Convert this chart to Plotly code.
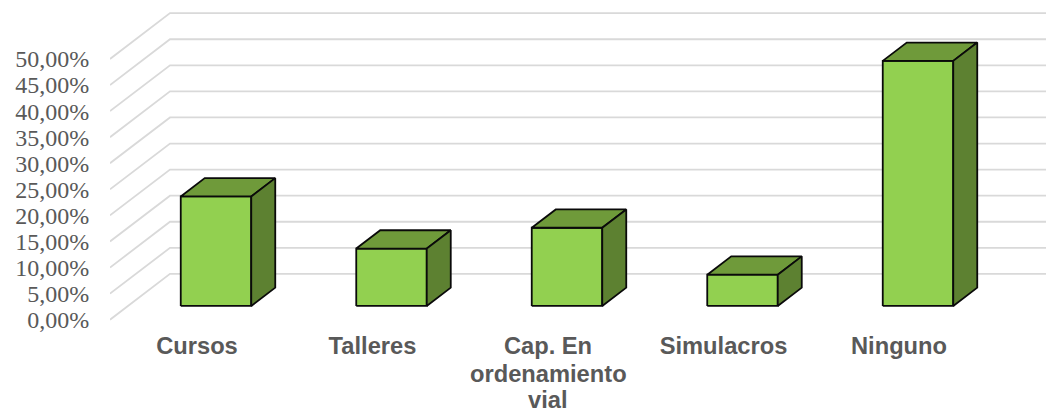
import plotly.graph_objects as go

categories = ["Cursos", "Talleres", "Cap. En", "Simulacros", "Ninguno"]
category_extra_lines = {2: ["ordenamiento", "vial"]}
values = [21.0, 11.0, 15.0, 6.0, 47.0]
y_ticks = [0, 5, 10, 15, 20, 25, 30, 35, 40, 45, 50]
y_labels = ["0,00%", "5,00%", "10,00%", "15,00%", "20,00%", "25,00%", "30,00%", "35,00%", "40,00%", "45,00%", "50,00%"]

W, H = 1046, 412
PX_X = 175.5   # pixels per category
PX_Y = 5.215   # pixels per percent
X0_PX, Y0_PX = 197.0, 319.7
LEFT_PX, BOTTOM_PX = 110.0, 324.0

x_min = (LEFT_PX - X0_PX) / PX_X
x_max = (W - X0_PX) / PX_X
y_min = (Y0_PX - BOTTOM_PX) / PX_Y
y_max = Y0_PX / PX_Y

# oblique projection of the depth axis, in data units
DEPTH_X = 60 / PX_X
DEPTH_Y = 45.8 / PX_Y
BAR_W = 70.5 / PX_X
D_FRONT, D_BACK = 0.3, 0.7
BAR_SHIFT = 1.0 / PX_X


def proj(x, y, d):
    return x + d * DEPTH_X, y + d * DEPTH_Y


fig = go.Figure()

# walls / gridlines
gx, gy = [], []
for t in y_ticks:
    a = proj(x_min, t, 0)
    b = proj(x_min, t, 1)
    gx += [a[0], b[0], x_max, None]
    gy += [a[1], b[1], b[1], None]
fig.add_trace(go.Scatter(x=gx, y=gy, mode="lines", line=dict(color="#D9D9D9", width=1.8),
                         hoverinfo="skip", showlegend=False))

OUT = dict(color="#0A0A0A", width=1.8)
for i, v in enumerate(values):
    l, r = i + BAR_SHIFT - BAR_W / 2, i + BAR_SHIFT + BAR_W / 2
    faces = {
        "#92D050": [proj(l, 0, D_FRONT), proj(r, 0, D_FRONT), proj(r, v, D_FRONT), proj(l, v, D_FRONT)],
        "#6F9A3A": [proj(l, v, D_FRONT), proj(r, v, D_FRONT), proj(r, v, D_BACK), proj(l, v, D_BACK)],
        "#5D8131": [proj(r, 0, D_FRONT), proj(r, 0, D_BACK), proj(r, v, D_BACK), proj(r, v, D_FRONT)],
    }
    for color, pts in faces.items():
        xs = [p[0] for p in pts] + [pts[0][0]]
        ys = [p[1] for p in pts] + [pts[0][1]]
        fig.add_trace(go.Scatter(x=xs, y=ys, mode="lines", fill="toself", fillcolor=color,
                                 line=dict(OUT), hoverinfo="skip", showlegend=False))

XFONT = dict(family="Liberation Sans", size=23.7, color="#595959")
annotations = []
for i, lines in category_extra_lines.items():
    for n, line in enumerate(lines):
        annotations.append(dict(x=i, xref="x", y=y_min, yref="y", yanchor="middle", xanchor="center",
                                yshift=-(23 + 26.5 * (n + 1)), showarrow=False,
                                text="<b>%s</b>" % line, font=XFONT, align="center",
                                borderpad=0, borderwidth=0))

fig.update_layout(
    width=W, height=H, margin=dict(l=0, r=0, t=0, b=0),
    paper_bgcolor="white", plot_bgcolor="rgba(0,0,0,0)", showlegend=False,
    annotations=annotations,
    xaxis=dict(domain=[LEFT_PX / W, 1], range=[x_min, x_max], showgrid=False, zeroline=False,
               automargin=False, showline=False, tickmode="array",
               tickvals=list(range(len(categories))),
               ticktext=["<b>%s</b>" % c for c in categories],
               ticks="outside", ticklen=1, tickcolor="rgba(0,0,0,0)",
               tickfont=XFONT, tickangle=0),
    yaxis=dict(domain=[(H - BOTTOM_PX) / H, 1], range=[y_min, y_max], showgrid=False, zeroline=False,
               automargin=False, showline=False, tickmode="array", tickvals=y_ticks, ticktext=y_labels,
               ticks="outside", ticklen=15, tickcolor="rgba(0,0,0,0)",
               tickfont=dict(family="Liberation Serif", size=24, color="#595959")),
)

fig.write_html("out.html", config={"displayModeBar": False},
               post_script="document.body.style.margin='0';document.body.style.overflow='hidden';")
